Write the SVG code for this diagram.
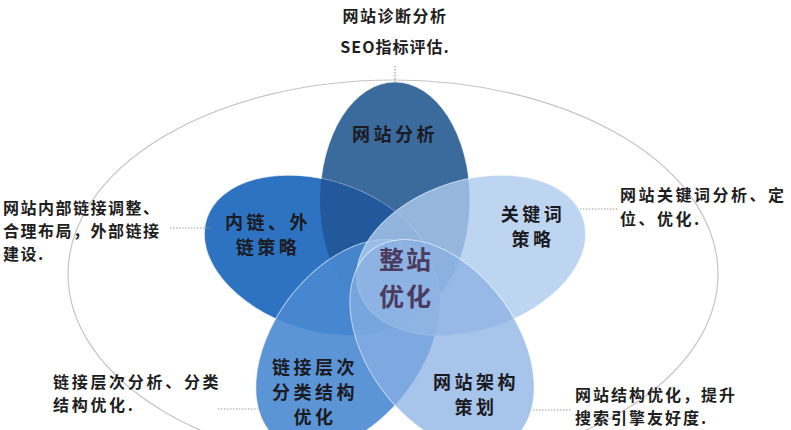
<svg xmlns="http://www.w3.org/2000/svg" width="791" height="430" viewBox="0 0 791 430">
<style>
.note{font-family:"Noto Sans CJK SC","Liberation Sans",sans-serif;font-size:16px;fill:#1e1e1e;font-weight:bold}
.lbl{font-family:"Noto Sans CJK SC","Liberation Sans",sans-serif;font-size:18px;font-weight:bold;fill:#1a1a22;text-anchor:middle;letter-spacing:3.5px}
.ctr{font-family:"Noto Sans CJK SC","Liberation Sans",sans-serif;font-size:25px;font-weight:bold;fill:#4b3b5e;text-anchor:middle;letter-spacing:2px}
.dot{stroke:#9a9a9a;stroke-width:1.2;stroke-dasharray:1.5 1.5;fill:none}
.petal{stroke:#ffffff;stroke-opacity:0.6;stroke-width:1}
</style>
<defs>
<ellipse id="pe" cx="395" cy="200" rx="75" ry="118"/>
<clipPath id="clipTop"><use href="#pe"/></clipPath>
</defs>
<rect width="791" height="430" fill="#ffffff"/>
<ellipse cx="393" cy="274" rx="325" ry="194" fill="none" stroke="#c4c4c4" stroke-width="1.2"/>
<g id="petal-top"><use href="#pe" class="petal" fill="#3b6b9d"/></g>
<g id="petal-left">
<use href="#pe" class="petal" fill="#2d73c1" transform="rotate(288 395 280)"/>
<g clip-path="url(#clipTop)"><use href="#pe" fill="#22599c" transform="rotate(288 395 280)"/></g>
</g>
<g id="petal-bottomleft"><use href="#pe" class="petal" fill="#4a89d1" fill-opacity="0.9" transform="rotate(216 395 280)"/></g>
<g id="petal-right"><use href="#pe" class="petal" fill="#aecaee" fill-opacity="0.8" transform="rotate(72 395 280)"/></g>
<g id="petal-bottomright"><use href="#pe" class="petal" fill="#88b0e2" fill-opacity="0.74" transform="rotate(144 395 280)"/></g>
<g id="connectors">
<line class="dot" x1="395" y1="66" x2="395" y2="84"/>
<line class="dot" x1="170" y1="228" x2="212" y2="228"/>
<line class="dot" x1="580" y1="209" x2="618" y2="209"/>
<line class="dot" x1="218" y1="409" x2="258" y2="409"/>
<line class="dot" x1="533" y1="410" x2="572" y2="410"/>
</g>
<g id="node-top-note">
<text class="note" x="395" y="22" text-anchor="middle" font-size="17" letter-spacing="1.5">网站诊断分析</text>
<text class="note" x="395" y="53" text-anchor="middle" font-size="17" letter-spacing="1">SEO指标评估.</text>
</g>
<g id="node-left-note">
<text class="note" x="3" y="214" letter-spacing="1.5">网站内部链接调整、</text>
<text class="note" x="3" y="237" letter-spacing="1.5">合理布局，外部链接</text>
<text class="note" x="3" y="260" letter-spacing="1.5">建设.</text>
</g>
<g id="node-right-note">
<text class="note" x="620" y="201" letter-spacing="2.5">网站关键词分析、定</text>
<text class="note" x="620" y="225" letter-spacing="2.5">位、优化.</text>
</g>
<g id="node-bl-note">
<text class="note" x="53" y="388" letter-spacing="2.7">链接层次分析、分类</text>
<text class="note" x="53" y="411" letter-spacing="2.7">结构优化.</text>
</g>
<g id="node-br-note">
<text class="note" x="575" y="401" letter-spacing="2">网站结构优化，提升</text>
<text class="note" x="575" y="424" letter-spacing="2">搜索引擎友好度.</text>
</g>
<g id="node-top"><text class="lbl" x="395" y="141">网站分析</text></g>
<g id="node-left"><text class="lbl" x="268" y="229">内链、外</text><text class="lbl" x="268" y="254">链策略</text></g>
<g id="node-right"><text class="lbl" x="533" y="221">关键词</text><text class="lbl" x="533" y="246">策略</text></g>
<g id="node-bl"><text class="lbl" x="315" y="374">链接层次</text><text class="lbl" x="315" y="399">分类结构</text><text class="lbl" x="315" y="424">优化</text></g>
<g id="node-br"><text class="lbl" x="476" y="389">网站架构</text><text class="lbl" x="476" y="414">策划</text></g>
<g id="node-center"><text class="ctr" x="406" y="269">整站</text><text class="ctr" x="406" y="306">优化</text></g>
</svg>
